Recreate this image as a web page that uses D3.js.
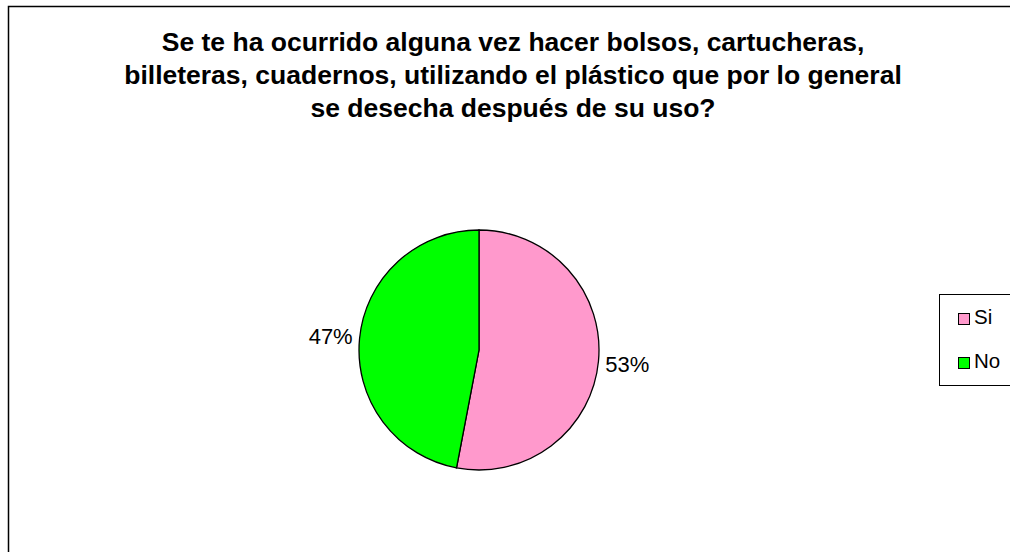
<!DOCTYPE html>
<html>
<head>
<meta charset="utf-8">
<script src="https://cdn.jsdelivr.net/npm/d3@7"></script>
<style>
  body { margin: 0; background: #fff; }
  svg { display: block; font-family: "Liberation Sans", Arial, sans-serif; }
</style>
</head>
<body>
<div id="chart"></div>
<script>
// datos del gráfico
const categories = ['Si', 'No'];
const values = [53, 47];
const colors = ['#FF99CC', '#00FF00'];
const titleLines = [
  'Se te ha ocurrido alguna vez hacer bolsos, cartucheras,',
  'billeteras, cuadernos, utilizando el plástico que por lo general',
  'se desecha después de su uso?'
];

const width = 1010, height = 552;
const cx = 479, cy = 350, r = 120;

const svg = d3.select('#chart').append('svg')
  .attr('width', width)
  .attr('height', height);

// marco exterior
svg.append('rect')
  .attr('x', 8.5).attr('y', 6.5)
  .attr('width', 1100).attr('height', 600)
  .attr('fill', '#fff')
  .attr('stroke', '#000')
  .attr('stroke-width', 1.5);

// título
svg.append('text')
  .attr('text-anchor', 'middle')
  .attr('font-weight', 'bold')
  .attr('font-size', 26.5)
  .selectAll('tspan')
  .data(titleLines)
  .enter().append('tspan')
  .attr('x', 513)
  .attr('y', (d, i) => 51 + i * 33)
  .text(d => d);

// torta
const pie = d3.pie().sort(null).value(d => d);
const arcs = pie(values);
const arc = d3.arc().innerRadius(0).outerRadius(r);

const g = svg.append('g').attr('transform', `translate(${cx},${cy})`);

g.selectAll('path')
  .data(arcs)
  .enter().append('path')
  .attr('d', arc)
  .attr('fill', (d, i) => colors[i])
  .attr('stroke', '#000')
  .attr('stroke-width', 1.3);

// etiquetas de porcentaje
const labelArc = d3.arc().innerRadius(r + 29).outerRadius(r + 29);
g.selectAll('.lbl')
  .data(arcs)
  .enter().append('text')
  .attr('class', 'lbl')
  .attr('transform', d => `translate(${labelArc.centroid(d)})`)
  .attr('text-anchor', 'middle')
  .attr('dy', '0.38em')
  .attr('font-size', 22)
  .text(d => d.data + '%');

// leyenda
const legend = svg.append('g');
legend.append('rect')
  .attr('x', 939.5).attr('y', 294.5)
  .attr('width', 100).attr('height', 91)
  .attr('fill', '#fff')
  .attr('stroke', '#000')
  .attr('stroke-width', 1);

const items = legend.selectAll('.item')
  .data(categories)
  .enter().append('g')
  .attr('transform', (d, i) => `translate(958, ${313 + i * 44})`);

items.append('rect')
  .attr('x', 0.5).attr('y', 0.5)
  .attr('width', 11).attr('height', 11)
  .attr('fill', (d, i) => colors[i])
  .attr('stroke', '#000');

items.append('text')
  .attr('x', 16)
  .attr('y', 11)
  .attr('font-size', 20.5)
  .text(d => d);
</script>
</body>
</html>
